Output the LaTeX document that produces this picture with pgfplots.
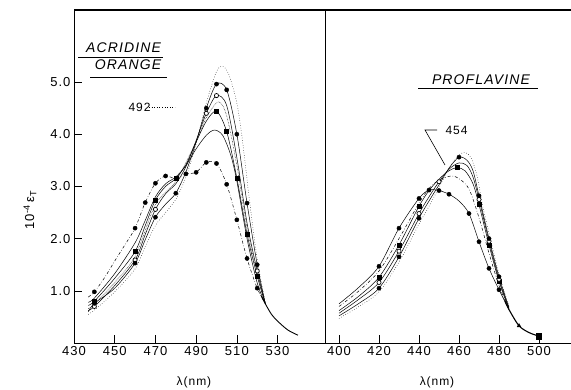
\documentclass[border=0pt]{standalone}
\usepackage{fontspec}
\setmainfont{Liberation Sans}
\newfontfamily\lbl[LetterSpace=8]{Liberation Sans}
\usepackage{pgfplots}
\pgfplotsset{compat=1.18}
\pgfplotsset{
  cv/.style={smooth, no marks, black, line width=0.5pt},
  fc/.style={only marks, mark=*, mark size=2.1pt, black},
  fs/.style={only marks, mark=square*, mark size=2.0pt, black},
  oc/.style={only marks, mark=*, mark size=2.1pt, black, mark options={fill=white, line width=0.7pt}},
  panel/.style={scale only axis, height=333pt, ymin=0, ymax=6.38,
    tick pos=left, tick align=inside, major tick length=8pt,
    axis line style={line width=0.8pt}, every tick/.style={black, line width=0.6pt},
    /pgf/number format/assume math mode=true,
    ticklabel style={font=\lbl\fontsize{13}{15}\selectfont},
    xticklabel style={/pgf/number format/1000 sep={}},
    clip=false},
}
\begin{document}
\begin{tikzpicture}
\useasboundingbox (-74pt,-47pt) rectangle (497pt,343pt);
% ---------------- ACRIDINE ORANGE ----------------
\begin{axis}[panel, at={(0pt,0pt)}, anchor=south west, width=251pt,
  xmin=430, xmax=553.3, xtick={430,450,...,530}, ytick={1,2,3,4,5},
  yticklabel style={/pgf/number format/fixed, /pgf/number format/fixed zerofill, /pgf/number format/precision=1}]
% C1
\addplot[cv, dash dot] coordinates {(437,0.88)(440,0.98)(445,1.25)(450,1.57)(455,1.88)(460,2.20)(465,2.69)(470,3.06)(475,3.20)(480,3.15)(485,3.24)(490,3.27)(495,3.46)(500,3.44)(505,3.04)(510,2.36)(515,1.62)(520,1.05)(524,0.75)};
\addplot[fc] coordinates {(440,0.98)(460,2.20)(465,2.69)(470,3.06)(475,3.20)(485,3.24)(490,3.27)(495,3.46)(500,3.44)(505,3.04)(510,2.36)(515,1.62)(520,1.05)};
% C2
\addplot[cv] coordinates {(437,0.78)(440,0.86)(450,1.33)(460,1.92)(465,2.35)(470,2.80)(475,3.05)(480,3.18)(485,3.40)(490,3.72)(495,3.98)(499,4.08)(503,3.98)(507,3.60)(510,3.10)(515,2.00)(520,1.15)(524,0.75)};
% C3
\addplot[cv] coordinates {(437,0.72)(440,0.80)(450,1.24)(460,1.75)(465,2.25)(470,2.74)(475,3.00)(480,3.15)(485,3.42)(490,3.85)(495,4.25)(500,4.44)(505,4.05)(510,3.16)(515,2.09)(520,1.28)(524,0.75)};
\addplot[fs] coordinates {(440,0.80)(460,1.75)(470,2.74)(480,3.15)(500,4.44)(505,4.05)(510,3.16)(515,2.09)(520,1.28)};
% C7
\addplot[cv, densely dotted] coordinates {(437,0.66)(440,0.74)(450,1.16)(460,1.66)(470,2.65)(480,3.10)(490,3.86)(495,4.32)(501,4.62)(505,4.35)(510,3.40)(515,2.20)(520,1.33)(524,0.75)};
% C4
\addplot[cv] coordinates {(437,0.62)(440,0.70)(450,1.10)(460,1.59)(465,2.08)(470,2.56)(475,2.86)(480,3.05)(485,3.38)(490,3.88)(495,4.40)(500,4.74)(505,4.55)(510,3.55)(515,2.30)(520,1.38)(524,0.75)};
\addplot[oc] coordinates {(440,0.70)(460,1.59)(470,2.56)(495,4.40)(500,4.74)(520,1.38)};
% C5
\addplot[cv] coordinates {(437,0.60)(440,0.76)(450,1.05)(460,1.53)(465,1.98)(470,2.41)(475,2.66)(480,2.87)(485,3.28)(490,3.85)(495,4.50)(500,4.96)(505,4.85)(510,4.00)(515,2.68)(520,1.50)(524,0.75)};
\addplot[fc] coordinates {(440,0.76)(460,1.53)(470,2.41)(480,2.87)(495,4.50)(500,4.96)(505,4.85)(510,4.00)(515,2.68)(520,1.50)};
% C6
\addplot[cv, dotted] coordinates {(437,0.55)(440,0.63)(450,0.98)(460,1.42)(465,1.85)(470,2.25)(475,2.50)(480,2.75)(485,3.18)(490,3.82)(495,4.60)(500,5.20)(503,5.30)(506,5.15)(510,4.60)(513,3.80)(516,2.80)(520,1.60)(524,0.78)};
% common tail
\addplot[smooth, no marks, black, line width=0.9pt] coordinates {(522,0.9)(524,0.75)(527,0.55)(530,0.42)(535,0.25)(540,0.15)};
\end{axis}
% ---------------- PROFLAVINE ----------------
\begin{axis}[panel, at={(251pt,0pt)}, anchor=south west, width=250pt,
  xmin=393, xmax=518, xtick={400,420,...,500}, ytick=\empty]
% R1
\addplot[cv] coordinates {(400,0.75)(410,1.07)(420,1.47)(430,2.20)(440,2.77)(445,2.93)(450,2.92)(455,2.85)(460,2.72)(465,2.48)(470,1.94)(475,1.43)(480,1.02)(485,0.64)};
\addplot[fc] coordinates {(420,1.47)(430,2.20)(440,2.77)(445,2.93)(450,2.92)(455,2.85)(465,2.48)(470,1.94)(475,1.43)(480,1.02)};
% R2
\addplot[cv, dash dot] coordinates {(400,0.70)(410,1.00)(420,1.38)(430,2.00)(440,2.68)(445,2.96)(450,3.12)(456,3.20)(460,3.15)(465,2.95)(470,2.40)(475,1.72)(480,1.10)(485,0.64)};
% R3
\addplot[cv] coordinates {(400,0.62)(410,0.90)(420,1.26)(430,1.88)(440,2.62)(445,2.92)(450,3.14)(455,3.30)(459,3.36)(463,3.30)(467,3.05)(470,2.65)(475,1.88)(480,1.18)(485,0.65)};
\addplot[fs] coordinates {(420,1.26)(430,1.88)(440,2.62)(459,3.36)(470,2.65)(475,1.88)(480,1.18)};
% R4
\addplot[cv] coordinates {(400,0.57)(410,0.84)(420,1.16)(430,1.76)(440,2.48)(445,2.80)(450,3.09)(455,3.33)(460,3.45)(464,3.40)(467,3.18)(470,2.75)(475,1.95)(480,1.22)(485,0.66)};
\addplot[oc] coordinates {(420,1.16)(430,1.76)(440,2.48)(450,3.09)(470,2.75)(475,1.95)(480,1.22)};
% R5
\addplot[cv] coordinates {(400,0.52)(410,0.76)(420,1.05)(430,1.65)(440,2.39)(445,2.72)(450,3.03)(455,3.35)(460,3.56)(464,3.50)(467,3.30)(470,2.82)(475,2.00)(480,1.27)(485,0.68)};
\addplot[fc] coordinates {(420,1.05)(430,1.65)(440,2.39)(460,3.56)(470,2.82)(475,2.00)(480,1.27)};
% R6
\addplot[cv, dotted] coordinates {(400,0.47)(410,0.70)(420,0.98)(430,1.55)(440,2.28)(445,2.62)(450,2.98)(455,3.35)(460,3.60)(463,3.65)(466,3.55)(469,3.20)(472,2.60)(476,1.95)(480,1.32)(485,0.70)};
% common tail
\addplot[smooth, no marks, black, line width=1.1pt] coordinates {(483,0.80)(485,0.64)(490,0.33)(495,0.20)(500,0.13)};
\addplot[only marks, mark=triangle*, mark size=2.2pt, black] coordinates {(490,0.33)};
\addplot[only marks, mark=square*, mark size=2.6pt, black] coordinates {(500,0.13)};
\end{axis}
% frame top line (filled strip)
\fill[black] (-0.5pt,332.3pt) rectangle (497pt,333.7pt);
% ---------------- annotations ----------------
\node[font=\lbl\itshape\fontsize{14}{16}\selectfont] at (49.5pt,295pt) {ACRIDINE};
\draw[line width=0.7pt] (4pt,286pt) -- (89pt,286pt);
\node[font=\lbl\itshape\fontsize{14}{16}\selectfont] at (54pt,278pt) {ORANGE};
\draw[line width=0.7pt] (16pt,266pt) -- (93pt,266pt);
\node[font=\lbl\fontsize{12}{14}\selectfont] at (65.5pt,236pt) {492};
\draw[dotted, line width=0.6pt] (75pt,236pt) -- (101pt,236pt);
\node[font=\lbl\itshape\fontsize{14}{16}\selectfont] at (407pt,263pt) {PROFLAVINE};
\draw[line width=0.7pt] (344pt,255pt) -- (464pt,255pt);
\node[font=\lbl\fontsize{12}{14}\selectfont] at (382.5pt,213pt) {454};
\draw[line width=0.6pt] (363pt,213pt) -- (351pt,213pt) -- (371pt,178pt);
\node[rotate=90, font=\lbl\fontsize{13}{15}\selectfont] at (-44pt,133pt) {10\textsuperscript{-4}\,ε\textsubscript{T}};
\node[font=\lbl\fontsize{12}{14}\selectfont] at (120pt,-39pt) {λ(nm)};
\node[font=\lbl\fontsize{12}{14}\selectfont] at (363pt,-39pt) {λ(nm)};
\end{tikzpicture}
\end{document}
